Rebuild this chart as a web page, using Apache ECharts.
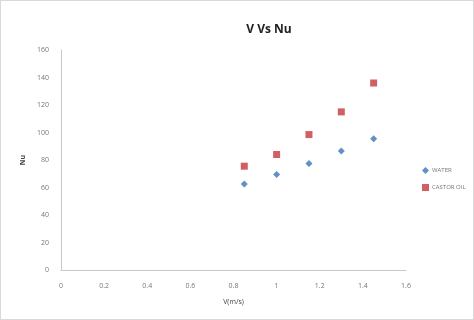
<!DOCTYPE html>
<html>
<head>
<meta charset="utf-8">
<script src="https://cdn.jsdelivr.net/npm/echarts@6/dist/echarts.min.js"></script>
<style>
  html, body { margin: 0; padding: 0; background: #fff; }
  #chart { width: 474px; height: 320px; box-sizing: border-box; border: 1px solid #d9d9d9; }
</style>
</head>
<body>
<div id="chart"></div>
<script>
// velocity (m/s)
const velocity = [0.85, 1.0, 1.15, 1.3, 1.45];
// Nusselt number
const waterNu = [62.5, 69.5, 77.5, 86.5, 95.5];
const castorNu = [75.5, 84, 98.5, 115, 136];

const chart = echarts.init(document.getElementById("chart"));

const axisLabel = { color: "#777", fontSize: 7, fontFamily: "Open Sans" };

const option = {
  animation: false,
  title: {
    text: "V Vs Nu",
    left: 263,
    top: 18,
    textAlign: "center",
    textStyle: { fontSize: 12, fontWeight: "bold", color: "#222", fontFamily: "Open Sans" },
  },
  legend: {
    orient: "vertical",
    left: 421,
    top: 166,
    padding: 0,
    itemWidth: 7,
    itemHeight: 7,
    itemGap: 10,
    textStyle: { fontSize: 6, color: "#777", fontFamily: "Open Sans", padding: [0, 0, 0, -2] },
    data: [
      { name: "WATER", icon: "diamond" },
      { name: "CASTOR OIL", icon: "rect" },
    ],
  },
  grid: { left: 60, right: 67, top: 49, bottom: 49 },
  xAxis: {
    type: "value",
    min: 0,
    max: 1.6,
    interval: 0.2,
    name: "V(m/s)",
    nameLocation: "middle",
    nameGap: 28,
    nameTextStyle: { fontSize: 7, color: "#444", fontFamily: "Open Sans" },
    axisLine: { lineStyle: { color: "#c8c8c8" } },
    axisTick: { show: false },
    splitLine: { show: false },
    axisLabel: { ...axisLabel, margin: 12 },
  },
  yAxis: {
    type: "value",
    min: 0,
    max: 160,
    interval: 20,
    name: "Nu",
    nameLocation: "middle",
    nameGap: 30,
    nameRotate: 90,
    nameTextStyle: { fontSize: 7, fontWeight: "bold", color: "#444", fontFamily: "Open Sans" },
    axisLine: { show: true, lineStyle: { color: "#c8c8c8" } },
    axisTick: { show: false },
    splitLine: { show: false },
    axisLabel: { ...axisLabel, margin: 12 },
  },
  series: [
    {
      name: "WATER",
      type: "scatter",
      symbol: "diamond",
      symbolSize: 7,
      itemStyle: { color: "#3C72B8" },
      data: velocity.map((v, i) => [v, waterNu[i]]),
    },
    {
      name: "CASTOR OIL",
      type: "scatter",
      symbol: "rect",
      symbolSize: 7,
      itemStyle: { color: "#C4393B" },
      data: velocity.map((v, i) => [v, castorNu[i]]),
    },
  ],
};

chart.setOption(option);
</script>
</body>
</html>
